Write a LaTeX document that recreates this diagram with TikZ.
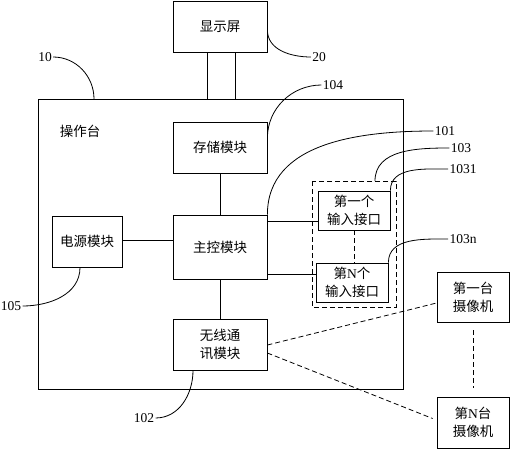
\documentclass[tikz,border=0pt]{standalone}
\usepackage{fontspec}
\setmainfont{Liberation Serif}
\newfontfamily\cjk{Noto Sans CJK SC}
\usetikzlibrary{positioning,calc}

\begin{document}
\begin{tikzpicture}[x=1pt, y=-1pt, line width=0.8pt,
    every node/.style={font=\fontsize{13.5}{18}\selectfont},
    box/.style={draw, align=center, inner sep=1pt},
    lbl/.style={inner sep=1pt},
    dsh/.style={dash pattern=on 5pt off 3pt}]
        \useasboundingbox (0,0) rectangle (512,450);

        % Outer console box
        \draw (38,99) rectangle (403,389);
        \node[lbl] (console) at (80,131) {\cjk 操作台};

        % Display
        \node[box, minimum width=94pt, minimum height=51pt] (disp) at (220,26.5) {\cjk 显示屏};
        \coordinate (topa) at (207,99);
        \coordinate (topb) at (235,99);
        \draw (disp.south -| topa) -- (topa);
        \draw (disp.south -| topb) -- (topb);

        % Modules
        \node[box, minimum width=94pt, minimum height=51pt] (store) at (220,147.5) {\cjk 存储模块};
        \node[box, minimum width=94pt, minimum height=64pt] (main) at (220,247) {\cjk 主控模块};
        \node[box, minimum width=70pt, minimum height=51pt] (power) at (87,241.5) {\cjk 电源模块};
        \node[box, minimum width=94pt, minimum height=51pt] (wire) at (220,344.5) {\cjk 无线通\\\cjk 讯模块};

        % Input interfaces
        \draw[dsh] (312,181) rectangle (396,307);
        \coordinate (dtop) at (375,181);
        \node[box, minimum width=72pt, minimum height=39pt] (inA) at (354,210.5) {\cjk 第一个\\\cjk 输入接口};
        \node[box, minimum width=72pt, minimum height=39pt] (inN) at (352,282.5) {{\cjk 第}N{\cjk 个}\\\cjk 输入接口};

        % Cameras
        \node[box, minimum width=72pt, minimum height=50pt] (camA) at (473,297) {\cjk 第一台\\\cjk 摄像机};
        \node[box, minimum width=72pt, minimum height=51pt] (camN) at (473,422.5) {{\cjk 第}N{\cjk 台}\\\cjk 摄像机};

        % Connections
        \draw (store) -- (main);
        \draw (main) -- (wire);
        \draw (power.east |- 0,240) -- (main.west |- 0,240);
        \draw (main.east |- 0,221) -- (inA.west |- 0,221);
        \draw (main.east |- 0,274) -- (inN.west |- 0,274);
        \draw[dsh] (inA.south -| 354,0) -- (inN.north -| 354,0);
        \draw[dsh] (camA.south) ++(0,8) -- ($(camN.north)+(0,-9)$);
        \draw[dsh] (wire.east |- 0,345) -- (camA.west |- 0,303);
        \draw[dsh] (wire.east |- 0,353) -- ($(camN.west)+(-4,-4)$);

        % Reference labels
        \node[lbl] (n10) at (45,57) {10};
        \node[lbl] (n20) at (319,57) {20};
        \node[lbl] (n104) at (333,85) {104};
        \node[lbl] (n101) at (445,131) {101};
        \node[lbl] (n103) at (461,148) {103};
        \node[lbl] (n1031) at (463,169) {1031};
        \node[lbl] (n103n) at (463,239) {103n};
        \node[lbl] (n105) at (11,306) {105};
        \node[lbl] (n102) at (144,418) {102};

        % Leader lines
        \draw (n10.east) to[out=0, in=90] (94,99);
        \draw (disp.east |- 0,30) to[out=-90, in=180] (n20.west);
        \draw (store.east |- 0,138) to[out=90, in=180] (n104.west);
        \draw (main.north east) to[out=90, in=180] (n101.west);
        \draw (dtop) to[out=90, in=180] (n103.west);
        \draw (inA.north east) to[out=90, in=180] (n1031.west);
        \draw (inN.north east) to[out=90, in=180] (n103n.west);
        \draw (power.south -| 80,0) to[out=-90, in=0] (n105.east);
        \draw (wire.south -| 193,0) to[out=-90, in=0] (n102.east);
    \end{tikzpicture}
\end{document}
